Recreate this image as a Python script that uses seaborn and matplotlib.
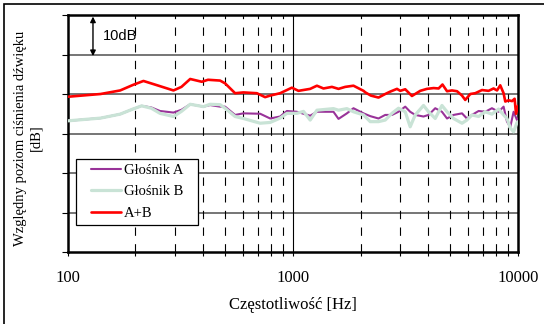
import numpy as np
import pandas as pd
import matplotlib
matplotlib.use("Agg")
import matplotlib.pyplot as plt
from matplotlib.patches import Rectangle
from matplotlib.ticker import FixedLocator, NullFormatter
import seaborn as sns

# Frequency response of two loudspeakers and their sum (relative SPL, dB)
freq_ab = [100, 140, 171, 195, 213, 235, 257, 295, 320, 350, 401, 429, 475, 500, 554, 603,
           716, 793, 878, 941, 1042, 1115, 1194, 1279, 1515, 1595, 1738, 1859, 2060, 2206,
           2401, 2572, 2754, 2946, 3156, 3320, 3496, 3805, 4006, 4290, 4595, 4840, 5170,
           5640, 5930, 6245, 6685, 7155, 7660, 8200, 8630, 8935, 9245, 9560, 9900, 10000]
glosnik_a = [33.2, 33.9, 34.9, 36.2, 37.0, 36.6, 35.7, 35.3, 36.0, 37.4, 36.8, 37.2, 36.8,
             36.8, 34.7, 35.1, 35.0, 33.8, 34.3, 35.7, 35.5, 35.0, 34.5, 35.5, 35.5, 33.7,
             35.1, 36.4, 35.1, 34.4, 33.8, 34.7, 34.7, 35.5, 36.8, 35.5, 34.7, 34.3, 34.7,
             36.4, 35.5, 33.8, 34.7, 35.1, 33.8, 34.7, 35.7, 35.5, 36.4, 35.5, 36.8, 33.0,
             31.7, 35.5, 33.4, 33.8]
glosnik_b = [33.2, 33.9, 34.9, 36.2, 37.0, 36.4, 35.1, 34.3, 35.6, 37.4, 36.8, 37.4, 37.3,
             36.4, 34.3, 33.8, 32.6, 32.8, 33.9, 35.1, 35.1, 35.6, 33.4, 35.9, 36.3, 35.9,
             36.3, 35.5, 34.7, 33.0, 33.0, 33.4, 35.1, 36.4, 35.5, 31.7, 34.7, 37.1, 35.5,
             33.8, 37.1, 35.5, 33.8, 32.6, 33.4, 34.7, 34.3, 35.5, 34.9, 36.2, 34.7, 33.8,
             31.4, 30.4, 32.8, 33.0]

freq_sum = [100, 140, 171, 195, 217, 250, 295, 320, 350, 394, 420, 475, 500, 554, 603, 692,
            753, 793, 878, 990, 1059, 1194, 1279, 1368, 1491, 1595, 1708, 1859, 2060, 2100,
            2220, 2401, 2572, 2706, 2900, 3000, 3156, 3380, 3680, 3940, 4220, 4440, 4620,
            4840, 5090, 5360, 5640, 5830, 6140, 6460, 6920, 7400, 7790, 8070, 8340, 8630,
            8780, 9080, 9410, 9660, 9800, 10000]
suma_ab = [39.3, 40.0, 40.9, 42.3, 43.3, 42.2, 40.9, 41.8, 43.8, 43.1, 43.6, 43.4, 42.7,
           40.2, 40.4, 40.2, 39.2, 39.6, 40.2, 41.6, 40.8, 41.3, 42.1, 41.4, 41.8, 41.3,
           41.8, 42.1, 40.8, 40.4, 39.6, 39.1, 40.0, 40.6, 41.3, 40.8, 41.2, 39.5, 40.8,
           41.3, 41.5, 41.4, 42.4, 40.7, 40.9, 40.7, 39.6, 38.5, 40.0, 40.2, 41.0, 40.8,
           41.4, 40.9, 42.2, 40.2, 38.1, 38.4, 38.2, 38.8, 35.0, 37.0]

series_labels = ["Głośnik A", "Głośnik B", "A+B"]
x_ticks = [100, 1000, 10000]
x_tick_labels = ["100", "1000", "10000"]

sns.set_theme(style="white")
plt.rcParams["font.family"] = ["Liberation Serif", "DejaVu Serif"]

fig = plt.figure(figsize=(5.44, 3.24), dpi=100)
ax = fig.add_axes([67.7 / 544, 1 - 252 / 324, 450.3 / 544, 237 / 324])

df_a = pd.DataFrame({"f": freq_ab, "dB": glosnik_a})
df_b = pd.DataFrame({"f": freq_ab, "dB": glosnik_b})
df_s = pd.DataFrame({"f": freq_sum, "dB": suma_ab})

sns.lineplot(data=df_a, x="f", y="dB", ax=ax, color="#993399", lw=1.5,
             label=series_labels[0], zorder=3)
sns.lineplot(data=df_b, x="f", y="dB", ax=ax, color="#C9E3D6", lw=2.3,
             label=series_labels[1], zorder=3.1)
sns.lineplot(data=df_s, x="f", y="dB", ax=ax, color="#FF0000", lw=1.9,
             label=series_labels[2], zorder=3.2)

ax.set_xscale("log")
ax.set_xlim(100, 10000)
ax.set_ylim(0, 60)
ax.set_xticks(x_ticks, labels=x_tick_labels)
ax.xaxis.set_minor_locator(FixedLocator([m * d for d in (100, 1000) for m in range(2, 10)]))
ax.xaxis.set_minor_formatter(NullFormatter())
ax.set_yticks(np.arange(0, 61, 10))
ax.set_yticklabels([])

# grid: solid horizontals, dashed minor verticals, solid line at 1 kHz
ax.set_axisbelow(True)
ax.grid(False)
for v in range(10, 60, 10):
    ax.axhline(v, color="#505050", lw=1.1, zorder=1)
ax.axvline(1000, color="black", lw=0.8, zorder=1)
for d in (100, 1000):
    for m in range(2, 10):
        ax.axvline(m * d, color="black", lw=0.8, ls=(0, (7.5, 7.5)), zorder=1)

for sp in ax.spines.values():
    sp.set_color("black")
    sp.set_linewidth(1.8)

ax.tick_params(axis="x", which="major", direction="out", length=3, width=0.8,
               colors="black", pad=10, labelsize=12, bottom=True)
ax.tick_params(axis="x", which="minor", direction="out", length=3, width=0.8,
               colors="black", bottom=True)
ax.tick_params(axis="y", which="major", direction="out", length=4, width=0.8,
               colors="black", left=True)
for lbl in ax.get_xticklabels():
    lbl.set_color("black")

ax.set_xlabel("Częstotliwość [Hz]", fontsize=12, color="black", labelpad=8)
ax.set_ylabel("")
fig.text(28 / 544, 1 - 138 / 324, "Względny poziom ciśnienia dźwięku\n[dB]",
         rotation=90, ha="center", va="center", multialignment="center",
         fontsize=10.5, color="black", linespacing=1.25)

# 10 dB scale marker
ax.annotate("", xy=(129.5, 59.6), xytext=(129.5, 49.6),
            arrowprops=dict(arrowstyle="<|-|>", color="black", lw=1.0,
                            mutation_scale=8, shrinkA=0, shrinkB=0), zorder=5)
ax.text(143, 54.8, "10dB", fontsize=10.5, family=["Liberation Sans", "DejaVu Sans"],
        color="black", va="center", ha="left")

# legend with a plain white box
ax.add_patch(Rectangle((8.3 / 450.3, 27 / 237), 122 / 450.3, 66 / 237,
                       transform=ax.transAxes, facecolor="white", edgecolor="black",
                       lw=0.9, zorder=6))
leg = ax.legend(loc="upper left", bbox_to_anchor=(23 / 450.3, 88 / 237), frameon=False,
                fontsize=10.5, handlelength=2.1, handletextpad=0.2, labelspacing=0.55,
                borderpad=0, borderaxespad=0)
leg.set_zorder(7)
for t in leg.get_texts():
    t.set_color("black")

# outer frame around the figure
fig.patches.append(Rectangle((4 / 544, -0.1), 1.2, 1 - 4.5 / 324 + 0.1,
                             transform=fig.transFigure, fill=False,
                             edgecolor="black", lw=1.2))

fig.savefig("out.png", dpi=100, facecolor="white")
